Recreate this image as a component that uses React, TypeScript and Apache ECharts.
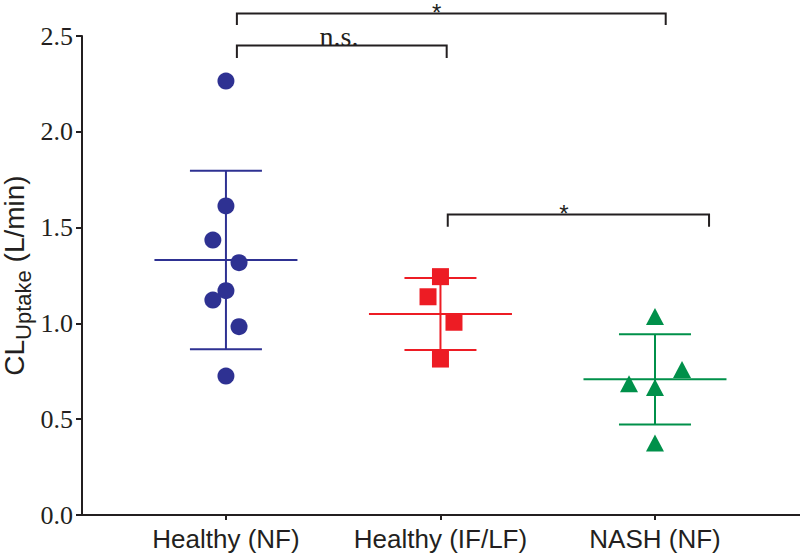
import React, { useEffect, useRef } from "react";
import * as echarts from "echarts";

const categories = ["Healthy (NF)", "Healthy (IF/LF)", "NASH (NF)"];
const categoryPositions = [1, 2, 3];
const yTicks = [0, 0.5, 1.0, 1.5, 2.0, 2.5];

// individual points: jittered x position, value
const healthyNFX = [1, 1, 0.939, 1.061, 1, 0.939, 1.061, 1];
const healthyNFY = [2.265, 1.613, 1.435, 1.317, 1.171, 1.122, 0.983, 0.725];
const healthyIFX = [2, 1.942, 2.063, 2];
const healthyIFY = [1.244, 1.139, 1.006, 0.814];
const nashNFX = [3, 3.126, 2.879, 3, 3];
const nashNFY = [1.036, 0.76, 0.685, 0.665, 0.376];

// mean and SD per group
const groupMeans = [1.331, 1.049, 0.708];
const groupSDs = [0.466, 0.188, 0.236];

// significance brackets
const bracketX1 = [1.051, 1.051, 2.034];
const bracketX2 = [3.05, 2.029, 3.252];
const bracketY = [2.618, 2.451, 1.569];
const bracketLegY = [2.557, 2.385, 1.505];
const bracketLabelX = [1.982, 1.527, 2.576];
const bracketLabels = ["*", "n.s.", "*"];

const colors = ["#2e3192", "#ed1c24", "#00904a"];
const ink = "#231f20";

export default function App() {
  const ref = useRef<HTMLDivElement>(null);
  useEffect(() => {
    document.body.style.margin = "0";
    const chart = echarts.init(ref.current!, null, { renderer: "svg" });
    const zip = (xs: number[], ys: number[]) => xs.map((x, i) => [x, ys[i]]);
    const option: any = {
      animation: false,
      backgroundColor: "#ffffff",
      grid: { left: 82, right: 0, top: 36, bottom: 41, containLabel: false, outerBoundsMode: "none" },
      xAxis: {
        type: "value",
        min: 0.329,
        max: 3.676,
        splitLine: { show: false },
        axisLine: { show: true, onZero: false, lineStyle: { color: ink, width: 2 } },
        axisTick: { show: true, customValues: categoryPositions, length: 5, lineStyle: { color: ink, width: 2 } },
        axisLabel: {
          customValues: categoryPositions,
          formatter: (v: number) => categories[Math.round(v) - 1] ?? "",
          fontFamily: "Liberation Sans",
          fontSize: 26,
          color: ink,
          margin: 11,
        },
      },
      yAxis: {
        type: "value",
        min: yTicks[0],
        max: yTicks[yTicks.length - 1],
        interval: 0.5,
        splitLine: { show: false },
        axisLine: { show: true, lineStyle: { color: ink, width: 2 } },
        axisTick: { show: true, length: 6, lineStyle: { color: ink, width: 2 } },
        axisLabel: {
          formatter: (v: number) => v.toFixed(1),
          fontFamily: "Liberation Serif",
          fontSize: 26,
          color: ink,
          margin: 9,
        },
        name: "{m|CL}{s|Uptake}{m| (L/min)}",
        nameLocation: "middle",
        nameGap: 48,
        nameMoveOverlap: false,
        nameTextStyle: {
          rich: {
            m: { fontFamily: "Liberation Sans", fontSize: 28, color: ink },
            s: { fontFamily: "Liberation Sans", fontSize: 22, color: ink, padding: [18, 0, 0, 0] },
          },
        },
      },
      series: [
        {
          type: "custom",
          name: "mean-sd",
          z: 2,
          data: groupMeans.map((m, i) => [categoryPositions[i], m, groupSDs[i]]),
          encode: { x: 0, y: 1 },
          renderItem: (params: any, api: any) => {
            const x = api.value(0);
            const m = api.value(1);
            const sd = api.value(2);
            const c = api.coord([x, m]);
            const up = api.coord([x, m + sd]);
            const lo = api.coord([x, m - sd]);
            const color = colors[params.dataIndex];
            const st = { stroke: color, lineWidth: 2 };
            return {
              type: "group",
              children: [
                { type: "line", shape: { x1: c[0] - 71.5, y1: c[1], x2: c[0] + 71.5, y2: c[1] }, style: st },
                { type: "line", shape: { x1: c[0], y1: up[1], x2: c[0], y2: lo[1] }, style: st },
                { type: "line", shape: { x1: c[0] - 36, y1: up[1], x2: c[0] + 36, y2: up[1] }, style: st },
                { type: "line", shape: { x1: c[0] - 36, y1: lo[1], x2: c[0] + 36, y2: lo[1] }, style: st },
              ],
            };
          },
        },
        {
          type: "custom",
          name: "brackets",
          z: 2,
          clip: false,
          data: bracketX1.map((x1, i) => [x1, bracketY[i], bracketX2[i], bracketLegY[i], bracketLabelX[i]]),
          encode: { x: [0, 2, 4], y: [1, 3] },
          renderItem: (params: any, api: any) => {
            const i = params.dataIndex;
            const a = api.coord([api.value(0), api.value(1)]);
            const b = api.coord([api.value(2), api.value(1)]);
            const legA = api.coord([api.value(0), api.value(3)]);
            const lbl = api.coord([api.value(4), api.value(1)]);
            const st = { stroke: ink, lineWidth: 2, fill: "none" };
            const isNS = bracketLabels[i] === "n.s.";
            const fs = isNS ? 28 : 24;
            return {
              type: "group",
              children: [
                {
                  type: "polyline",
                  shape: { points: [[a[0], legA[1]], [a[0], a[1]], [b[0], b[1]], [b[0], legA[1]]] },
                  style: st,
                },
                {
                  type: "text",
                  x: lbl[0],
                  y: Math.max(lbl[1] + (isNS ? -9 : -1), fs / 2),
                  style: {
                    text: bracketLabels[i],
                    fill: ink,
                    fontFamily: isNS ? "Liberation Serif" : "Liberation Sans",
                    fontSize: fs,
                    align: "center",
                    verticalAlign: "middle",
                  },
                },
              ],
            };
          },
        },
        {
          type: "scatter",
          name: categories[0],
          z: 3,
          symbol: "circle",
          symbolSize: 17,
          itemStyle: { color: colors[0], opacity: 1 },
          data: zip(healthyNFX, healthyNFY),
        },
        {
          type: "scatter",
          name: categories[1],
          z: 3,
          symbol: "rect",
          symbolSize: 17,
          itemStyle: { color: colors[1], opacity: 1 },
          data: zip(healthyIFX, healthyIFY),
        },
        {
          type: "scatter",
          name: categories[2],
          z: 3,
          symbol: "triangle",
          symbolSize: [18, 17],
          itemStyle: { color: colors[2], opacity: 1 },
          data: zip(nashNFX, nashNFY),
        },
      ],
    };
    chart.setOption(option);
    return () => chart.dispose();
  }, []);
  return <div ref={ref} style={{ position: "fixed", left: 0, top: 0, width: 800, height: 556 }} />;
}
